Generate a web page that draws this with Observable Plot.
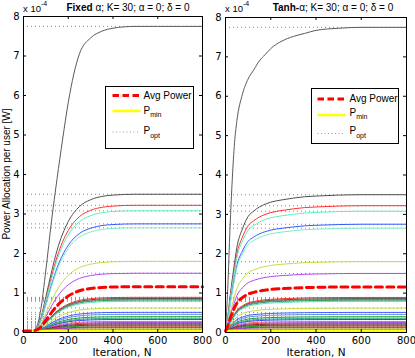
<!DOCTYPE html>
<html><head><meta charset="utf-8">
<script src="https://cdn.jsdelivr.net/npm/d3@7"></script>
<script src="https://cdn.jsdelivr.net/npm/@observablehq/plot@0.6"></script>
<style>
body{margin:0;background:#fff}
#wrap{position:relative;width:415px;height:358px;overflow:hidden;background:#fff}
#wrap > svg{position:absolute;top:0}
</style></head><body><div id="wrap"></div>
<script>
const iterations = [0,10,20,30,40,50,75,100,125,150,175,200,250,300,350,400,500,600,800];
// Fraction of the final (P_opt) power reached
const fixedTopProfile = [0,0,0,0,0,0.003,0.06,0.2,0.36,0.5,0.63,0.75,0.91,0.962,0.984,0.994,1,1,1];
const fixedProfile    = [0,0,0,0,0,0.01,0.08,0.25,0.43,0.59,0.71,0.8,0.91,0.96,0.984,0.994,1,1,1];
const tanhTopProfile  = [0,0.14,0.34,0.5,0.62,0.69,0.78,0.83,0.86,0.89,0.91,0.93,0.955,0.97,0.98,0.99,0.997,1,1];
const tanhProfile     = [0,0.1,0.25,0.38,0.5,0.61,0.75,0.84,0.88,0.91,0.93,0.945,0.962,0.975,0.985,0.99,0.997,1,1];
// Optimal power per user (x 1e-4 W), K = 30
const popt = [7.75,3.50,3.22,3.08,2.75,2.65,1.80,1.50,0.89,0.86,0.84,0.82,0.79,0.62,0.51,0.46,0.40,0.36,0.33,0.28,0.25,0.22,0.19,0.17,0.14,0.12,0.09,0.07,0.05,0.04];
const userColors = ["#5a5a5a","#505050","#ff3030","#60f0c0","#3a58ff","#78f0c8","#c8dc40","#b048f8","#ff3030","#4a4a4a","#808080","#30a060","#60e0b0","#c8dc40","#4060ff","#6890e0","#20a030","#30b090","#3050e0","#ff6080","#a040e0","#a02020","#404040","#20a030","#e02020","#9030e0","#b0c820","#40b040","#e0e000","#707070"];
const pmin = 0.04;
const yTicks = [0,1,2,3,4,5,6,7,8];
const xTicks = [0,200,400,600,800];

function panel({topProfile, profile, w, ml, mr, mt, xlabelDx}) {
  const mb = 26, H = 358;
  const rows = [];
  popt.forEach((p, i) => {
    const prof = i === 0 ? topProfile : profile;
    iterations.forEach((n, k) => rows.push({user: i, N: n, v: pmin + (p - pmin) * prof[k], color: userColors[i]}));
  });
  const avg = iterations.map(n => ({N: n, v: d3.mean(rows.filter(r => r.N === n), r => r.v)}));
  const iw = w - ml - mr, ih = H - mt - mb;
  return Plot.plot({
    width: w, height: H, marginLeft: ml, marginRight: mr, marginTop: mt, marginBottom: mb,
    style: {background: "transparent", overflow: "visible", fontFamily: "DejaVu Sans", fontSize: "10px", color: "#000"},
    x: {domain: [0, 800]},
    y: {domain: [0, 8]},
    color: {type: "identity"},
    marks: [
      Plot.ruleY(popt, {stroke: "#8a8a8a", strokeDasharray: "1,3"}),
      Plot.line(rows, {x: "N", y: "v", z: "user", stroke: "color", strokeWidth: 1, curve: "monotone-x"}),
      Plot.ruleY([pmin], {stroke: "#ffff00", strokeWidth: 2.5}),
      Plot.line(avg, {x: "N", y: "v", stroke: "#ff0000", strokeWidth: 3, strokeDasharray: "7,4.5", curve: "monotone-x"}),
      Plot.frame({stroke: "#000"}),
      Plot.tickY(yTicks, {y: d => d, insetRight: iw - 3, stroke: "#000"}),
      Plot.tickY(yTicks, {y: d => d, insetLeft: iw - 3, stroke: "#000"}),
      Plot.tickX(xTicks, {x: d => d, insetTop: ih - 3, stroke: "#000"}),
      Plot.tickX(xTicks, {x: d => d, insetBottom: ih - 3, stroke: "#000"}),
      Plot.axisX({ticks: xTicks, tickSize: 0, tickPadding: 4.5, label: null}),
      Plot.axisY({ticks: yTicks, tickSize: 0, tickPadding: 4, label: null}),
      Plot.text(["Iteration, N"], {text: d => d, frameAnchor: "bottom", dy: 16, dx: xlabelDx, lineAnchor: "top", fontSize: 10.5})
    ]
  });
}

const wrap = document.getElementById("wrap");
const left = panel({topProfile: fixedTopProfile, profile: fixedProfile, w: 205, ml: 23, mr: 3, mt: 16, xlabelDx: 9});
left.style.left = "0px";
wrap.appendChild(left);
const right = panel({topProfile: tanhTopProfile, profile: tanhProfile, w: 210, ml: 20, mr: 9, mt: 17, xlabelDx: 0});
right.style.left = "205px";
wrap.appendChild(right);

// Overlay: titles, multipliers, y label, legends
const NS = "http://www.w3.org/2000/svg";
const ov = document.createElementNS(NS, "svg");
ov.setAttribute("width", 415); ov.setAttribute("height", 358);
ov.style.left = "0px"; ov.style.overflow = "visible";
ov.innerHTML = `
<g font-family="Liberation Sans, Arial, sans-serif" fill="#000">
  <text x="128" y="10.5" font-size="10" text-anchor="middle"><tspan font-weight="bold">Fixed</tspan> α; K= 30; α = 0; δ = 0</text>
  <text x="333" y="10.5" font-size="10" text-anchor="middle"><tspan font-weight="bold">Tanh-</tspan>α; K= 30;  α = 0; δ = 0</text>
  <text x="23" y="11.5" font-size="9.5">x 10<tspan font-size="7" dy="-6">-4</tspan></text>
  <text x="225" y="11.5" font-size="9.5">x 10<tspan font-size="7" dy="-6">-4</tspan></text>
  <text transform="translate(9.5,174) rotate(-90)" font-size="10" text-anchor="middle">Power Allocation per user [W]</text>
  <g transform="translate(105.5,86.5)">
    <rect width="88" height="62" fill="#fff" stroke="#000"/>
    <line x1="7" x2="35" y1="9" y2="9" stroke="#ff0000" stroke-width="3" stroke-dasharray="6.5,3.5"/>
    <text x="38" y="12.5" font-size="10">Avg Power</text>
    <line x1="7" x2="35" y1="24.5" y2="24.5" stroke="#ffff00" stroke-width="2.5"/>
    <text x="38" y="27" font-size="10">P<tspan font-size="7" dy="3.5">min</tspan></text>
    <line x1="7" x2="35" y1="45.5" y2="45.5" stroke="#999" stroke-dasharray="1,2.5"/>
    <text x="38" y="47.5" font-size="10">P<tspan font-size="7" dy="3.5">opt</tspan></text>
  </g>
  <g transform="translate(311.5,88.5)">
    <rect width="87" height="55" fill="#fff" stroke="#000"/>
    <line x1="6" x2="34" y1="10.5" y2="10.5" stroke="#ff0000" stroke-width="3" stroke-dasharray="6.5,3.5"/>
    <text x="38" y="13.5" font-size="10">Avg Power</text>
    <line x1="6" x2="34" y1="26.5" y2="26.5" stroke="#ffff00" stroke-width="2.5"/>
    <text x="38" y="27" font-size="10">P<tspan font-size="7" dy="3.5">min</tspan></text>
    <line x1="6" x2="34" y1="45" y2="45" stroke="#999" stroke-dasharray="1,2.5"/>
    <text x="38" y="45.5" font-size="10">P<tspan font-size="7" dy="3.5">opt</tspan></text>
  </g>
</g>`;
wrap.appendChild(ov);
</script></body></html>
